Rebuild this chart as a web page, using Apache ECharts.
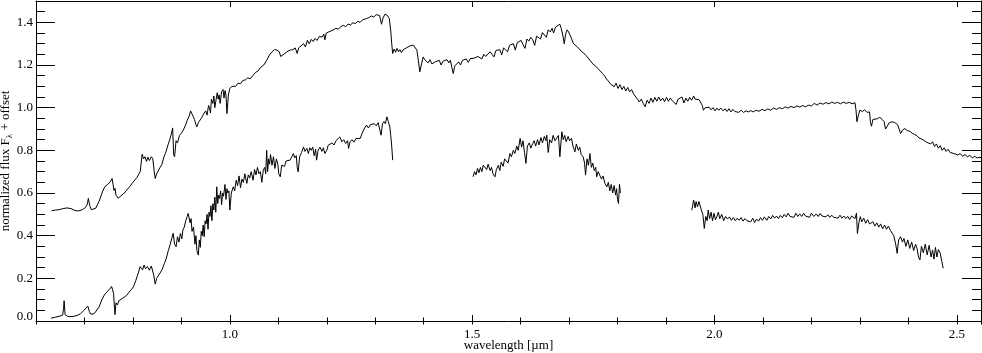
<!DOCTYPE html>
<html>
<head>
<meta charset="utf-8">
<script src="https://cdn.jsdelivr.net/npm/echarts@6/dist/echarts.min.js"></script>
<style>
  html, body { margin: 0; padding: 0; background: #fff; }
  #chart { width: 982px; height: 353px; }
</style>
</head>
<body>
<div id="chart"></div>
<script>
// [wavelength (µm), normalized flux + offset]
const upper = [
  [0.632,0.517],[0.640,0.520],[0.648,0.522],[0.656,0.527],[0.664,0.530],[0.672,0.527],[0.680,0.518],[0.688,0.516],[0.696,0.522],[0.702,0.532],[0.706,0.548],[0.708,0.575],[0.711,0.540],[0.714,0.522],[0.718,0.518],[0.723,0.528],[0.730,0.560],[0.737,0.605],[0.742,0.630],[0.748,0.640],[0.753,0.652],[0.757,0.668],[0.759,0.640],[0.761,0.612],[0.763,0.622],[0.765,0.590],[0.768,0.598],[0.770,0.575],[0.774,0.585],[0.780,0.595],[0.786,0.610],[0.794,0.632],[0.800,0.650],[0.808,0.672],[0.815,0.700],[0.819,0.782],[0.822,0.760],[0.825,0.770],[0.828,0.748],[0.831,0.768],[0.834,0.752],[0.838,0.770],[0.841,0.760],[0.844,0.700],[0.846,0.668],[0.849,0.690],[0.852,0.688],[0.856,0.720],[0.860,0.735],[0.864,0.770],[0.867,0.785],[0.870,0.790],[0.873,0.830],[0.876,0.850],[0.879,0.875],[0.882,0.905],[0.884,0.780],[0.886,0.770],[0.889,0.845],[0.892,0.835],[0.896,0.870],[0.900,0.880],[0.904,0.895],[0.908,0.915],[0.912,0.940],[0.916,0.960],[0.919,0.985],[0.921,0.988],[0.924,0.960],[0.927,0.945],[0.930,0.920],[0.932,0.910],[0.935,0.930],[0.938,0.925],[0.941,0.950],[0.944,0.945],[0.947,0.975],[0.950,0.985],[0.953,0.965],[0.956,1.010],[0.958,1.000],[0.960,0.975],[0.962,1.040],[0.965,1.020],[0.967,1.055],[0.969,1.000],[0.971,1.030],[0.974,1.070],[0.976,1.040],[0.978,1.060],[0.980,1.020],[0.983,1.075],[0.986,1.085],[0.988,1.045],[0.990,1.080],[0.992,1.060],[0.994,0.972],[0.997,1.060],[1.000,1.090],[1.004,1.100],[1.007,1.105],[1.012,1.100],[1.017,1.115],[1.022,1.112],[1.027,1.128],[1.032,1.130],[1.037,1.140],[1.042,1.135],[1.048,1.152],[1.053,1.165],[1.058,1.172],[1.064,1.190],[1.070,1.200],[1.076,1.222],[1.082,1.248],[1.087,1.262],[1.092,1.272],[1.097,1.270],[1.102,1.262],[1.105,1.240],[1.108,1.245],[1.114,1.255],[1.120,1.265],[1.125,1.270],[1.130,1.272],[1.135,1.280],[1.139,1.254],[1.142,1.280],[1.147,1.290],[1.152,1.300],[1.156,1.285],[1.160,1.316],[1.164,1.300],[1.168,1.320],[1.172,1.310],[1.176,1.325],[1.180,1.315],[1.185,1.335],[1.190,1.330],[1.194,1.345],[1.196,1.318],[1.199,1.350],[1.204,1.355],[1.209,1.360],[1.214,1.365],[1.219,1.372],[1.224,1.368],[1.229,1.380],[1.234,1.386],[1.239,1.380],[1.244,1.392],[1.249,1.388],[1.254,1.398],[1.259,1.394],[1.264,1.405],[1.269,1.400],[1.274,1.412],[1.278,1.408],[1.282,1.418],[1.287,1.422],[1.292,1.430],[1.297,1.425],[1.302,1.436],[1.306,1.441],[1.309,1.432],[1.313,1.391],[1.316,1.420],[1.320,1.438],[1.325,1.432],[1.329,1.418],[1.332,1.360],[1.334,1.300],[1.336,1.254],[1.339,1.275],[1.342,1.260],[1.345,1.278],[1.348,1.262],[1.351,1.272],[1.354,1.258],[1.357,1.270],[1.360,1.262],[1.364,1.280],[1.368,1.285],[1.372,1.290],[1.376,1.292],[1.379,1.293],[1.383,1.285],[1.386,1.269],[1.389,1.220],[1.392,1.168],[1.395,1.200],[1.399,1.238],[1.402,1.225],[1.405,1.230],[1.409,1.210],[1.413,1.225],[1.417,1.205],[1.420,1.200],[1.424,1.215],[1.428,1.208],[1.432,1.222],[1.436,1.200],[1.440,1.218],[1.444,1.212],[1.448,1.225],[1.452,1.210],[1.455,1.222],[1.458,1.190],[1.461,1.160],[1.464,1.195],[1.468,1.205],[1.472,1.215],[1.476,1.200],[1.480,1.222],[1.484,1.215],[1.488,1.228],[1.492,1.212],[1.496,1.230],[1.500,1.222],[1.504,1.232],[1.508,1.225],[1.512,1.240],[1.516,1.236],[1.520,1.228],[1.524,1.250],[1.528,1.240],[1.532,1.246],[1.537,1.262],[1.541,1.250],[1.545,1.238],[1.549,1.268],[1.553,1.260],[1.557,1.272],[1.561,1.248],[1.565,1.280],[1.569,1.275],[1.573,1.262],[1.577,1.292],[1.581,1.285],[1.585,1.300],[1.589,1.270],[1.593,1.305],[1.597,1.298],[1.601,1.315],[1.605,1.295],[1.609,1.278],[1.613,1.322],[1.617,1.312],[1.621,1.330],[1.625,1.318],[1.629,1.292],[1.633,1.335],[1.637,1.340],[1.641,1.322],[1.645,1.352],[1.649,1.345],[1.653,1.330],[1.657,1.365],[1.661,1.355],[1.665,1.372],[1.668,1.350],[1.672,1.378],[1.676,1.385],[1.681,1.391],[1.684,1.370],[1.687,1.340],[1.690,1.300],[1.693,1.345],[1.696,1.365],[1.699,1.355],[1.702,1.340],[1.706,1.318],[1.709,1.300],[1.713,1.298],[1.717,1.285],[1.721,1.280],[1.725,1.265],[1.729,1.262],[1.733,1.250],[1.737,1.246],[1.741,1.228],[1.745,1.222],[1.749,1.205],[1.753,1.200],[1.757,1.190],[1.761,1.180],[1.765,1.172],[1.769,1.160],[1.773,1.150],[1.777,1.135],[1.781,1.125],[1.785,1.112],[1.789,1.120],[1.793,1.098],[1.797,1.115],[1.801,1.090],[1.805,1.108],[1.809,1.085],[1.813,1.100],[1.817,1.078],[1.821,1.095],[1.825,1.074],[1.829,1.085],[1.833,1.065],[1.837,1.060],[1.841,1.040],[1.845,1.027],[1.849,1.040],[1.853,1.020],[1.857,1.004],[1.861,1.035],[1.865,1.020],[1.869,1.045],[1.873,1.025],[1.877,1.048],[1.881,1.030],[1.885,1.050],[1.889,1.032],[1.893,1.045],[1.897,1.028],[1.901,1.048],[1.905,1.030],[1.909,1.045],[1.913,1.032],[1.917,1.040],[1.921,1.015],[1.925,1.040],[1.929,1.035],[1.933,1.050],[1.937,1.022],[1.941,1.045],[1.945,1.030],[1.949,1.048],[1.953,1.035],[1.957,1.055],[1.960,1.040],[1.964,1.048],[1.968,1.038],[1.972,1.040],[1.975,1.010],[1.977,0.988],[1.981,1.000],[1.985,0.992],[1.989,1.002],[1.993,0.990],[1.997,1.000],[2.001,0.985],[2.005,0.998],[2.009,0.988],[2.013,0.998],[2.018,0.985],[2.022,0.995],[2.026,0.982],[2.030,0.995],[2.034,0.980],[2.038,0.992],[2.042,0.982],[2.046,0.990],[2.050,0.978],[2.055,0.988],[2.060,0.978],[2.065,0.985],[2.070,0.980],[2.075,0.986],[2.080,0.980],[2.086,0.988],[2.092,0.983],[2.098,0.992],[2.104,0.986],[2.110,0.994],[2.116,0.988],[2.122,0.998],[2.128,0.992],[2.134,1.000],[2.140,0.995],[2.146,1.004],[2.152,0.998],[2.158,1.006],[2.164,1.000],[2.170,1.008],[2.176,1.003],[2.182,1.010],[2.188,1.004],[2.194,1.012],[2.200,1.008],[2.206,1.020],[2.212,1.012],[2.218,1.022],[2.224,1.016],[2.230,1.024],[2.236,1.018],[2.242,1.026],[2.248,1.020],[2.254,1.025],[2.260,1.018],[2.266,1.026],[2.272,1.020],[2.278,1.025],[2.284,1.018],[2.290,1.023],[2.292,0.990],[2.294,0.934],[2.297,0.965],[2.300,0.988],[2.305,0.982],[2.310,0.990],[2.315,0.978],[2.320,0.980],[2.322,0.930],[2.324,0.913],[2.327,0.945],[2.331,0.954],[2.336,0.948],[2.341,0.955],[2.346,0.945],[2.350,0.935],[2.353,0.900],[2.356,0.910],[2.360,0.928],[2.366,0.934],[2.372,0.930],[2.378,0.920],[2.381,0.900],[2.384,0.879],[2.388,0.895],[2.393,0.902],[2.398,0.892],[2.403,0.890],[2.408,0.880],[2.413,0.875],[2.418,0.868],[2.422,0.858],[2.426,0.865],[2.430,0.850],[2.434,0.855],[2.438,0.838],[2.442,0.845],[2.446,0.830],[2.450,0.840],[2.454,0.818],[2.458,0.830],[2.462,0.810],[2.466,0.822],[2.470,0.800],[2.474,0.812],[2.478,0.795],[2.482,0.805],[2.486,0.790],[2.490,0.798],[2.494,0.785],[2.498,0.792],[2.502,0.778],[2.507,0.785],[2.512,0.772],[2.517,0.780],[2.522,0.770],[2.527,0.776],[2.532,0.765],[2.537,0.772],[2.542,0.764],[2.548,0.768],[2.552,0.762]
];

// lower spectrum, three pieces (gaps at the telluric bands)
const lowerA = [
  [0.631,0.013],[0.640,0.018],[0.648,0.022],[0.655,0.028],[0.657,0.060],[0.658,0.095],[0.660,0.030],[0.665,0.022],[0.670,0.020],[0.678,0.022],[0.685,0.026],[0.692,0.034],[0.698,0.048],[0.703,0.060],[0.707,0.070],[0.710,0.045],[0.713,0.032],[0.716,0.028],[0.720,0.034],[0.724,0.039],[0.730,0.065],[0.736,0.100],[0.741,0.122],[0.746,0.135],[0.752,0.150],[0.756,0.162],[0.758,0.169],[0.760,0.130],[0.762,0.060],[0.763,0.030],[0.765,0.085],[0.768,0.075],[0.771,0.095],[0.774,0.088],[0.778,0.105],[0.782,0.112],[0.787,0.120],[0.792,0.135],[0.797,0.148],[0.801,0.160],[0.806,0.190],[0.811,0.225],[0.815,0.255],[0.817,0.262],[0.820,0.240],[0.823,0.262],[0.826,0.245],[0.830,0.255],[0.834,0.238],[0.838,0.258],[0.841,0.254],[0.843,0.215],[0.846,0.173],[0.849,0.200],[0.852,0.195],[0.856,0.225],[0.860,0.240],[0.865,0.270],[0.869,0.295],[0.873,0.330],[0.877,0.360],[0.880,0.385],[0.883,0.411],[0.886,0.360],[0.889,0.348],[0.892,0.395],[0.895,0.370],[0.898,0.410],[0.901,0.385],[0.903,0.426],[0.906,0.440],[0.909,0.470],[0.912,0.490],[0.914,0.504],[0.916,0.495],[0.918,0.460],[0.920,0.480],[0.922,0.420],[0.925,0.440],[0.928,0.360],[0.930,0.400],[0.932,0.330],[0.935,0.309],[0.937,0.380],[0.939,0.345],[0.941,0.420],[0.943,0.400],[0.945,0.450],[0.947,0.395],[0.949,0.470],[0.951,0.455],[0.953,0.500],[0.955,0.430],[0.957,0.510],[0.959,0.490],[0.961,0.540],[0.963,0.470],[0.965,0.550],[0.967,0.520],[0.969,0.580],[0.971,0.510],[0.973,0.629],[0.975,0.550],[0.977,0.590],[0.979,0.575],[0.981,0.610],[0.983,0.545],[0.985,0.600],[0.987,0.585],[0.990,0.640],[0.992,0.570],[0.994,0.620],[0.996,0.600],[0.998,0.610],[1.000,0.520],[1.003,0.600],[1.007,0.629],[1.010,0.610],[1.013,0.660],[1.016,0.635],[1.019,0.680],[1.022,0.625],[1.025,0.665],[1.028,0.650],[1.031,0.690],[1.035,0.645],[1.038,0.685],[1.041,0.670],[1.044,0.700],[1.048,0.660],[1.051,0.710],[1.054,0.685],[1.057,0.720],[1.060,0.690],[1.063,0.700],[1.066,0.650],[1.069,0.707],[1.072,0.720],[1.074,0.690],[1.076,0.800],[1.078,0.700],[1.080,0.760],[1.082,0.735],[1.084,0.780],[1.087,0.730],[1.090,0.770],[1.093,0.715],[1.096,0.760],[1.099,0.735],[1.101,0.690],[1.104,0.676],[1.107,0.730],[1.110,0.739],[1.113,0.725],[1.116,0.750],[1.120,0.742],[1.124,0.754],[1.128,0.770],[1.131,0.785],[1.134,0.765],[1.137,0.775],[1.139,0.720],[1.141,0.699],[1.144,0.770],[1.148,0.790],[1.152,0.816],[1.155,0.795],[1.159,0.809],[1.162,0.785],[1.165,0.812],[1.168,0.800],[1.171,0.815],[1.174,0.775],[1.177,0.805],[1.179,0.754],[1.182,0.800],[1.186,0.815],[1.190,0.795],[1.193,0.812],[1.196,0.785],[1.200,0.800],[1.203,0.824],[1.207,0.815],[1.211,0.835],[1.215,0.825],[1.219,0.845],[1.223,0.838],[1.227,0.863],[1.231,0.840],[1.235,0.850],[1.239,0.832],[1.243,0.845],[1.245,0.809],[1.248,0.840],[1.252,0.850],[1.256,0.838],[1.260,0.855],[1.264,0.848],[1.269,0.856],[1.273,0.880],[1.277,0.900],[1.282,0.918],[1.286,0.905],[1.290,0.920],[1.294,0.912],[1.298,0.925],[1.302,0.915],[1.306,0.930],[1.310,0.934],[1.312,0.871],[1.315,0.925],[1.318,0.935],[1.321,0.925],[1.324,0.957],[1.327,0.935],[1.330,0.910],[1.332,0.870],[1.334,0.820],[1.336,0.754]
];
const lowerB = [
  [1.502,0.676],[1.505,0.700],[1.508,0.685],[1.511,0.715],[1.514,0.695],[1.517,0.720],[1.520,0.700],[1.523,0.730],[1.527,0.739],[1.530,0.710],[1.533,0.735],[1.537,0.705],[1.540,0.720],[1.543,0.690],[1.547,0.676],[1.550,0.710],[1.554,0.730],[1.557,0.705],[1.560,0.745],[1.564,0.725],[1.567,0.760],[1.571,0.754],[1.574,0.740],[1.578,0.785],[1.581,0.770],[1.585,0.800],[1.588,0.785],[1.592,0.820],[1.595,0.800],[1.599,0.856],[1.602,0.815],[1.605,0.845],[1.608,0.790],[1.611,0.739],[1.614,0.820],[1.618,0.835],[1.621,0.810],[1.625,0.832],[1.628,0.845],[1.631,0.820],[1.635,0.850],[1.638,0.825],[1.642,0.860],[1.645,0.835],[1.649,0.865],[1.652,0.845],[1.654,0.871],[1.657,0.790],[1.660,0.850],[1.664,0.835],[1.667,0.870],[1.671,0.845],[1.675,0.848],[1.678,0.870],[1.681,0.770],[1.685,0.887],[1.688,0.850],[1.691,0.870],[1.694,0.840],[1.698,0.865],[1.701,0.845],[1.705,0.856],[1.708,0.820],[1.712,0.793],[1.715,0.830],[1.719,0.800],[1.722,0.815],[1.725,0.780],[1.729,0.770],[1.732,0.740],[1.734,0.684],[1.737,0.760],[1.740,0.730],[1.743,0.785],[1.746,0.720],[1.749,0.740],[1.752,0.705],[1.755,0.720],[1.757,0.676],[1.760,0.700],[1.764,0.692],[1.767,0.665],[1.770,0.680],[1.774,0.645],[1.778,0.629],[1.781,0.650],[1.784,0.610],[1.787,0.640],[1.790,0.600],[1.793,0.635],[1.796,0.590],[1.798,0.620],[1.800,0.570],[1.802,0.551],[1.804,0.640],[1.806,0.600]
];
const lowerC = [
  [1.953,0.520],[1.955,0.540],[1.957,0.567],[1.960,0.530],[1.962,0.560],[1.965,0.535],[1.968,0.560],[1.970,0.551],[1.973,0.520],[1.976,0.500],[1.979,0.434],[1.982,0.490],[1.985,0.470],[1.987,0.520],[1.990,0.480],[1.993,0.510],[1.996,0.470],[1.999,0.505],[2.002,0.475],[2.005,0.489],[2.008,0.510],[2.011,0.480],[2.015,0.500],[2.019,0.470],[2.023,0.490],[2.027,0.478],[2.031,0.488],[2.035,0.472],[2.039,0.485],[2.043,0.470],[2.047,0.482],[2.051,0.472],[2.055,0.485],[2.059,0.468],[2.063,0.480],[2.067,0.470],[2.071,0.478],[2.075,0.465],[2.079,0.482],[2.083,0.462],[2.087,0.478],[2.091,0.468],[2.095,0.485],[2.099,0.472],[2.103,0.488],[2.108,0.472],[2.112,0.490],[2.116,0.478],[2.120,0.495],[2.124,0.482],[2.128,0.492],[2.132,0.480],[2.136,0.495],[2.140,0.484],[2.144,0.500],[2.148,0.488],[2.152,0.505],[2.156,0.490],[2.160,0.498],[2.164,0.486],[2.168,0.505],[2.172,0.490],[2.176,0.502],[2.180,0.490],[2.184,0.505],[2.188,0.492],[2.192,0.500],[2.196,0.486],[2.200,0.505],[2.205,0.490],[2.210,0.502],[2.214,0.490],[2.218,0.504],[2.222,0.492],[2.226,0.500],[2.230,0.488],[2.234,0.498],[2.238,0.486],[2.242,0.496],[2.246,0.486],[2.250,0.494],[2.255,0.482],[2.259,0.496],[2.263,0.482],[2.267,0.492],[2.271,0.480],[2.275,0.490],[2.279,0.476],[2.283,0.492],[2.287,0.489],[2.290,0.480],[2.293,0.505],[2.295,0.410],[2.298,0.460],[2.301,0.489],[2.304,0.465],[2.308,0.482],[2.312,0.458],[2.316,0.475],[2.320,0.455],[2.323,0.450],[2.327,0.465],[2.331,0.445],[2.335,0.460],[2.339,0.440],[2.343,0.455],[2.347,0.432],[2.351,0.450],[2.355,0.430],[2.359,0.445],[2.363,0.425],[2.367,0.434],[2.370,0.400],[2.374,0.360],[2.377,0.317],[2.380,0.380],[2.384,0.395],[2.388,0.370],[2.391,0.387],[2.395,0.350],[2.399,0.380],[2.403,0.340],[2.407,0.370],[2.411,0.330],[2.415,0.360],[2.418,0.340],[2.421,0.300],[2.424,0.286],[2.427,0.350],[2.431,0.320],[2.435,0.360],[2.439,0.310],[2.443,0.355],[2.447,0.300],[2.450,0.333],[2.453,0.290],[2.456,0.345],[2.459,0.300],[2.462,0.335],[2.466,0.317],[2.469,0.280],[2.472,0.247]
];

const xMajor = [1.0, 1.5, 2.0, 2.5];
const yTicks = [0.0, 0.2, 0.4, 0.6, 0.8, 1.0, 1.2, 1.4];

const FONT = 'Liberation Serif, Times New Roman, serif';
const black = { color: '#000', width: 1 };

const chart = echarts.init(document.getElementById('chart'));

function xAx(pos, opts) {
  return Object.assign({
    type: 'value', position: pos, min: 0.6, max: 2.55,
    axisLine: { show: false },
    splitLine: { show: false },
    axisLabel: { show: false }
  }, opts);
}
function yAx(pos, opts) {
  return Object.assign({
    type: 'value', position: pos, min: 0, max: 1.5,
    axisLine: { show: false },
    splitLine: { show: false },
    axisLabel: { show: false }
  }, opts);
}

const lineSeries = (name, data) => ({
  name, type: 'line', data,
  xAxisIndex: 0, yAxisIndex: 0,
  showSymbol: false, symbol: 'none',
  lineStyle: { color: '#000', width: 1 },
  silent: true
});

chart.setOption({
  animation: false,
  backgroundColor: '#fff',
  grid: {
    left: 36, right: 1, top: 1, bottom: 32, show: false,
    containLabel: false, outerBoundsMode: 'none'
  },
  xAxis: [
    xAx('bottom', {
      axisLine: { show: true, onZero: false, lineStyle: black },
      axisTick: { inside: true, length: 6, lineStyle: black, customValues: xMajor },
      axisLabel: {
        show: true, customValues: xMajor, margin: 7,
        color: '#000', fontFamily: FONT, fontSize: 13,
        formatter: v => v.toFixed(1)
      },
      name: 'wavelength [µm]', nameLocation: 'middle', nameGap: 18, nameMoveOverlap: false,
      nameTextStyle: { color: '#000', fontFamily: FONT, fontSize: 13 }
    }),
    xAx('bottom', { interval: 0.1, axisTick: { inside: true, length: 3.5, lineStyle: black } }),
    xAx('top', {
      axisLine: { show: true, onZero: false, lineStyle: black },
      axisTick: { inside: true, length: 6, lineStyle: black, customValues: xMajor }
    }),
    xAx('top', { interval: 0.1, axisTick: { inside: true, length: 3.5, lineStyle: black } })
  ],
  yAxis: [
    yAx('left', {
      axisLine: { show: true, onZero: false, lineStyle: black },
      axisTick: { inside: true, length: 19, lineStyle: black, customValues: yTicks },
      axisLabel: {
        show: true, customValues: yTicks, margin: 3,
        color: '#000', fontFamily: FONT, fontSize: 13,
        formatter: v => (v === 0 ? '{lift|0.0}' : v.toFixed(1)),
        rich: { lift: { fontFamily: FONT, fontSize: 13, color: '#000', padding: [0, 0, 9, 0] } }
      },
      name: 'normalized flux F{sub|λ} + offset',
      nameLocation: 'middle', nameRotate: 90, nameGap: 22, nameMoveOverlap: false,
      nameTextStyle: {
        color: '#000', fontFamily: FONT, fontSize: 13,
        rich: { sub: { fontFamily: FONT, fontSize: 9, color: '#000', padding: [7, 0, 0, 0] } }
      }
    }),
    yAx('left', { interval: 0.05, axisTick: { inside: true, length: 9, lineStyle: black } }),
    yAx('right', {
      axisLine: { show: true, onZero: false, lineStyle: black },
      axisTick: { inside: true, length: 19, lineStyle: black, customValues: yTicks }
    }),
    yAx('right', { interval: 0.05, axisTick: { inside: true, length: 9, lineStyle: black } })
  ],
  series: [
    lineSeries('upper', upper),
    lineSeries('lowerA', lowerA),
    lineSeries('lowerB', lowerB),
    lineSeries('lowerC', lowerC)
  ]
});
</script>
</body>
</html>
